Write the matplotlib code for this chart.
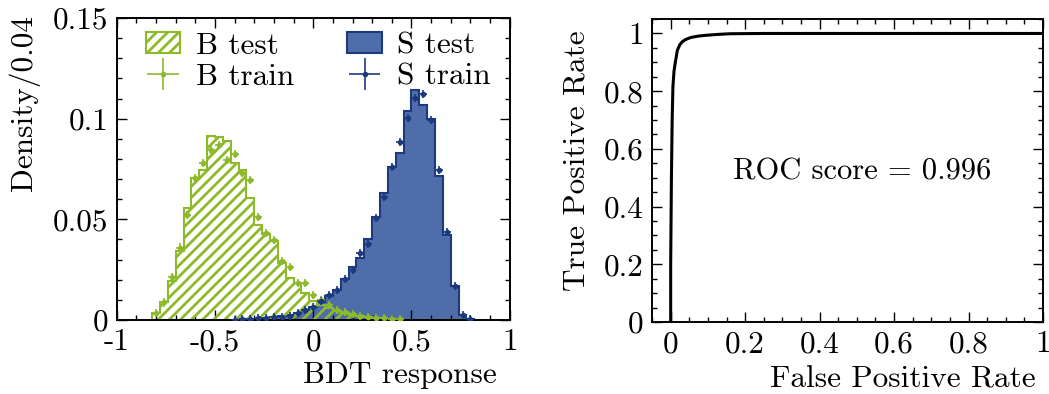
import numpy as np
import matplotlib
matplotlib.use("Agg")
from matplotlib import pyplot as plt
from matplotlib.ticker import MultipleLocator, FuncFormatter

plt.rcParams["font.family"] = "serif"
plt.rcParams["font.serif"] = ["cmr10"]
plt.rcParams["mathtext.fontset"] = "cm"
plt.rcParams["axes.formatter.use_mathtext"] = True
plt.rcParams["axes.unicode_minus"] = False
plt.rcParams["hatch.linewidth"] = 2.0

# bins of width 0.04
edges = np.round(np.arange(-0.82, 0.8201, 0.04), 2)
centers = 0.5 * (edges[:-1] + edges[1:])

# background (B) and signal (S) densities per bin
b_test = [0.0033, 0.0091, 0.0196, 0.0344, 0.0554, 0.0703, 0.0745, 0.0915, 0.0910, 0.0890,
          0.0778, 0.0745, 0.0604, 0.0472, 0.0425, 0.0392, 0.0283, 0.0210, 0.0182, 0.0132,
          0.0095, 0.0074, 0.0058, 0.0045, 0.0035, 0.0027, 0.0020, 0.0014, 0.0010, 0.0007,
          0.0004, 0.0002, 0, 0, 0, 0, 0, 0, 0, 0, 0]
b_train = [0.0037, 0.0087, 0.0215, 0.0360, 0.0520, 0.0703, 0.0778, 0.0844, 0.0869, 0.0794,
           0.0823, 0.0728, 0.0695, 0.0513, 0.0434, 0.0397, 0.0295, 0.0262, 0.0182, 0.0182,
           0.0125, 0.0099, 0.0074, 0.0050, 0.0040, 0.0030, 0.0022, 0.0016, 0.0011, 0.0008,
           0.0005, 0.0003, 0, 0, 0, 0, 0, 0, 0, 0, 0]
s_test = [0, 0, 0, 0, 0, 0.0001, 0.0001, 0.0001, 0.0001, 0.0002,
          0.0002, 0.0003, 0.0005, 0.0007, 0.0010, 0.0014, 0.0018, 0.0025, 0.0035, 0.0050,
          0.0067, 0.0088, 0.0118, 0.0150, 0.0205, 0.0262, 0.0306, 0.0400, 0.0513, 0.0629,
          0.0758, 0.0828, 0.1040, 0.1142, 0.1068, 0.0996, 0.0715, 0.0422, 0.0169, 0.0025,
          0.0005]
s_train = [0, 0, 0, 0, 0, 0, 0, 0, 0, 0,
           0.0002, 0.0003, 0.0005, 0.0008, 0.0010, 0.0013, 0.0017, 0.0022, 0.0033, 0.0048,
           0.0065, 0.0093, 0.0122, 0.0149, 0.0202, 0.0250, 0.0331, 0.0376, 0.0505, 0.0609,
           0.0758, 0.0885, 0.1001, 0.1101, 0.1121, 0.0993, 0.0745, 0.0439, 0.0169, 0.0025,
           0.0006]
train_err = 0.002

# ROC curve
fpr = [0.0, 0.0, 0.001, 0.002, 0.004, 0.006, 0.009, 0.012, 0.018, 0.025,
       0.031, 0.040, 0.054, 0.075, 0.098, 0.130, 0.161, 0.25, 0.5, 1.0]
tpr = [0.0, 0.2, 0.35, 0.5, 0.7, 0.815, 0.87, 0.896, 0.942, 0.962,
       0.971, 0.979, 0.986, 0.991, 0.994, 0.997, 0.999, 1.0, 1.0, 1.0]
roc_score = 0.996

green = "#8cba2a"
blue_fill = "#4f6ea9"
blue_dark = "#1d3a80"
fs = 22.5

fig = plt.figure(figsize=(10.49, 3.94), dpi=100)
ax1 = fig.add_axes([0.1113, 0.1878, 0.3746, 0.7665])
ax2 = fig.add_axes([0.6216, 0.1827, 0.3727, 0.769])

# 左图：BDT 输出分布
ax1.stairs(s_test, edges, fill=True, facecolor=blue_fill, edgecolor=blue_dark,
           lw=1.5, label="S test", zorder=1)
ax1.stairs(b_test, edges, fill=True, facecolor="none", edgecolor=green,
           hatch="///", lw=1.5, label="B test", zorder=2)

bt = np.array(b_train)
st = np.array(s_train)
mb = bt > 0
ms = st > 0
ax1.errorbar(centers[mb], bt[mb], xerr=0.02, yerr=train_err, fmt="o", ms=3,
             color=green, elinewidth=1.2, capsize=0, label="B train", zorder=3)
ax1.errorbar(centers[ms], st[ms], xerr=0.02, yerr=train_err, fmt="o", ms=3,
             color=blue_dark, elinewidth=1.2, capsize=0, label="S train", zorder=3)

ax1.set_xlim(-1, 1)
ax1.set_ylim(0, 0.15)
ax1.xaxis.set_major_locator(MultipleLocator(0.5))
ax1.xaxis.set_minor_locator(MultipleLocator(0.1))
ax1.yaxis.set_major_locator(MultipleLocator(0.05))
ax1.yaxis.set_minor_locator(MultipleLocator(0.01))
ax1.set_xlabel("BDT response", fontsize=fs, loc="right")
ax1.set_ylabel("Density/0.04", fontsize=fs, loc="top")
ax1.xaxis.set_label_coords(0.967, -0.135)
ax1.yaxis.set_label_coords(-0.195, 1.01)

h, l = ax1.get_legend_handles_labels()
order = [l.index("B test"), l.index("B train"), l.index("S test"), l.index("S train")]
ax1.legend([h[i] for i in order], [l[i] for i in order], ncol=2, loc="upper left",
           frameon=False, fontsize=fs, handlelength=1.1, handleheight=0.65,
           labelspacing=0.1, columnspacing=1.7, handletextpad=0.5,
           borderaxespad=0.0, borderpad=0.0, bbox_to_anchor=(0.074, 0.955))

# 右图：ROC 曲线
ax2.plot(fpr, tpr, color="black", lw=2.2)
ax2.text(0.515, 0.52, "ROC score = %.3f" % roc_score, fontsize=22,
         ha="center", va="center")
ax2.set_xlim(-0.05, 1)
ax2.set_ylim(0, 1.05)
ax2.xaxis.set_major_locator(MultipleLocator(0.2))
ax2.xaxis.set_minor_locator(MultipleLocator(0.05))
ax2.yaxis.set_major_locator(MultipleLocator(0.2))
ax2.yaxis.set_minor_locator(MultipleLocator(0.05))
ax2.set_xlabel("False Positive Rate", fontsize=fs, loc="right")
ax2.set_ylabel("True Positive Rate", fontsize=fs, loc="top")
ax2.xaxis.set_label_coords(0.98, -0.145)
ax2.yaxis.set_label_coords(-0.158, 0.963)

fmt = FuncFormatter(lambda v, p: "%g" % round(v, 3))
for ax in (ax1, ax2):
    ax.xaxis.set_major_formatter(fmt)
    ax.yaxis.set_major_formatter(fmt)
    ax.tick_params(which="both", direction="in", top=True, right=True,
                   labelsize=fs, width=1.0)
    ax.tick_params(which="major", length=7, pad=6)
    ax.tick_params(which="minor", length=3.5)
    for s in ax.spines.values():
        s.set_linewidth(1.4)

fig.savefig("out.png", dpi=100)
